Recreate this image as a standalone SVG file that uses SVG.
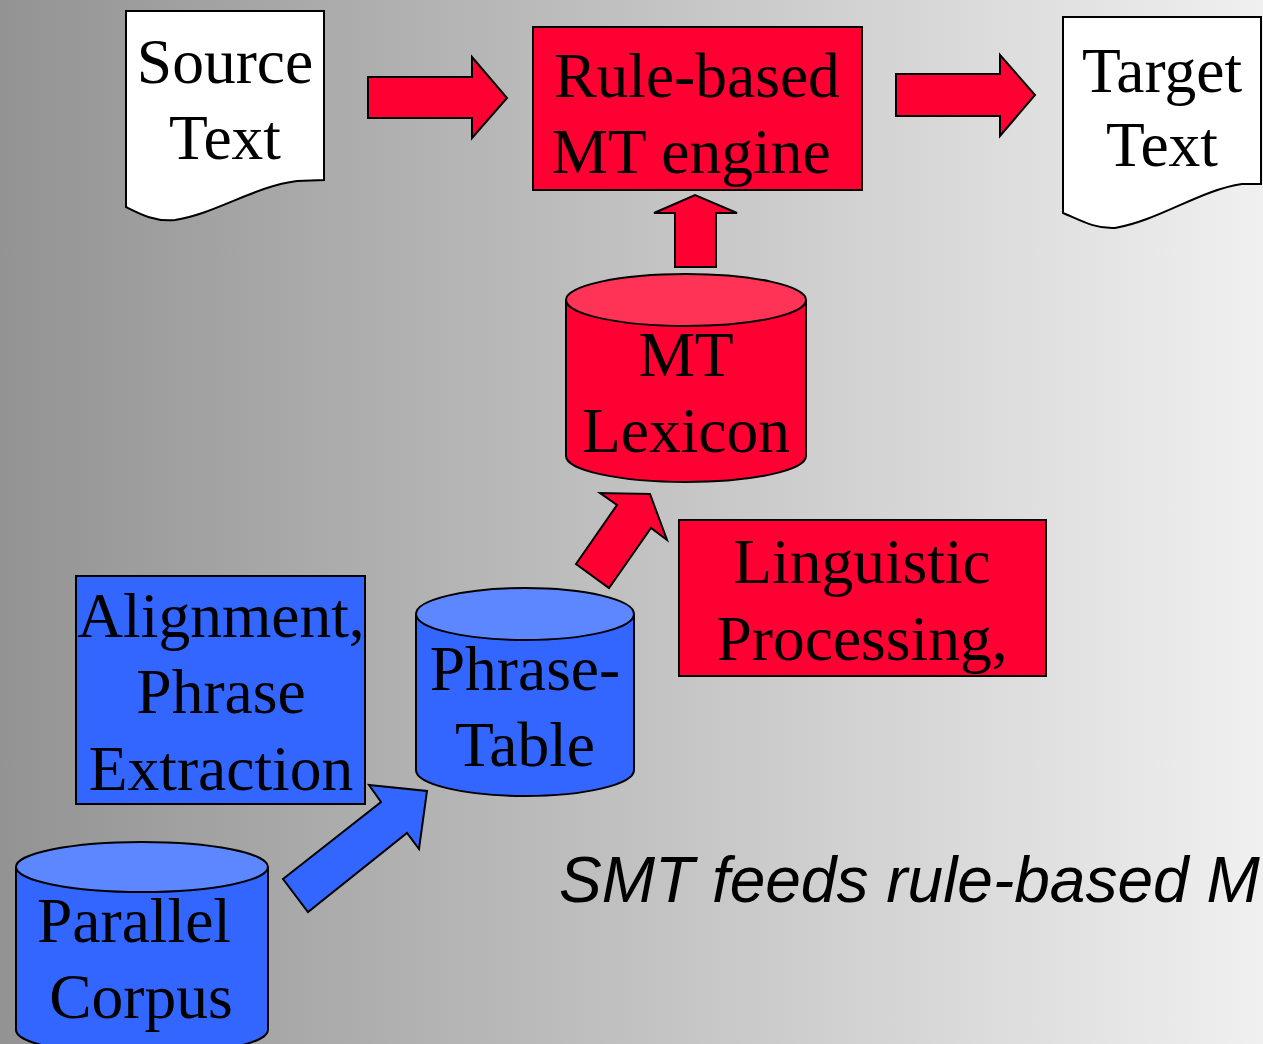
<svg xmlns="http://www.w3.org/2000/svg" width="1263" height="1044" viewBox="0 0 1263 1044">
<defs>
<linearGradient id="bg" x1="0" y1="0" x2="1" y2="0">
<stop offset="0" stop-color="#939393"/>
<stop offset="1" stop-color="#f0f0f0"/>
</linearGradient>
<style>
.t{font-family:"Liberation Serif","Times New Roman",serif;font-size:63.5px;fill:#000;text-anchor:middle}
.s{stroke:#000;stroke-width:2;stroke-linejoin:miter}
.red{fill:#ff0033}
.redtop{fill:#ff3355}
.blue{fill:#3366ff}
.bluetop{fill:#5c87ff}
.doc{fill:#fff}
.cap{font-family:"Liberation Sans",Arial,sans-serif;font-size:64px;font-style:italic;fill:#000}
</style>
</defs>
<rect width="1263" height="1044" fill="url(#bg)"/>

<g id="connectors">
<polygon class="s red" points="368,77 472,77 472,57 507,98 472,138 472,118 368,118"/>
<polygon class="s red" points="896,74 1000,74 1000,55 1035,95 1000,136 1000,116 896,116"/>
<polygon class="s red" points="675,267 675,213 654,213 695,195 737,213 716,213 716,267"/>
<polygon class="s red" points="576,564 617,505 600,493 650,494 667,540 651,528 609,588"/>
<polygon class="s blue" points="283,879 381,802 369,785 427,791 419,849 407,833 308,912"/>
</g>

<g id="source-text">
<path class="s doc" d="M126,11 H324 V180 L297,181 C255,186 215,214 175,220 C155,222 140,214 126,207 Z"/>
<text class="t" x="225" y="83">Source</text>
<text class="t" x="225" y="159">Text</text>
</g>

<g id="rule-engine">
<rect class="s red" x="533" y="27" width="329" height="163"/>
<text class="t" x="697" y="97">Rule-based</text>
<text class="t" x="691" y="173">MT engine</text>
</g>

<g id="target-text">
<path class="s doc" d="M1063,17 H1261 V184 L1242,184 C1200,190 1160,220 1115,228 C1095,229 1080,220 1063,213 Z"/>
<text class="t" x="1162" y="92">Target</text>
<text class="t" x="1162" y="166">Text</text>
</g>

<g id="mt-lexicon">
<path class="s red" d="M566,300 V456 A120,26 0 0 0 806,456 V300"/>
<ellipse class="s redtop" cx="686" cy="300" rx="120" ry="26"/>
<text class="t" x="686" y="376">MT</text>
<text class="t" x="686" y="452">Lexicon</text>
</g>

<g id="linguistic">
<rect class="s red" x="679" y="520" width="367" height="156"/>
<text class="t" x="862" y="583">Linguistic</text>
<text class="t" x="862" y="660">Processing,</text>
</g>

<g id="alignment">
<rect class="s blue" x="76" y="576" width="289" height="228"/>
<text class="t" x="221" y="637">Alignment,</text>
<text class="t" x="221" y="713">Phrase</text>
<text class="t" x="221" y="790">Extraction</text>
</g>

<g id="phrase-table">
<path class="s blue" d="M416,614 V770 A109,26 0 0 0 634,770 V614"/>
<ellipse class="s bluetop" cx="525" cy="614" rx="109" ry="26"/>
<text class="t" x="525" y="690">Phrase-</text>
<text class="t" x="525" y="766">Table</text>
</g>

<g id="parallel-corpus">
<path class="s blue" d="M16,867 V1030 A126,25 0 0 0 268,1030 V867"/>
<ellipse class="s bluetop" cx="142" cy="867" rx="126" ry="25"/>
<text class="t" x="134" y="942">Parallel</text>
<text class="t" x="141" y="1018">Corpus</text>
</g>

<text class="cap" x="559" y="902">SMT feeds rule-based M</text>
</svg>
